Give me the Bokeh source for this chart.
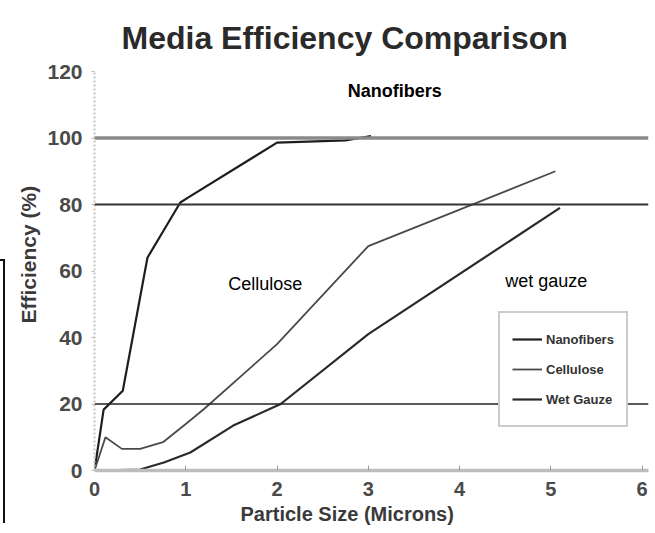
from bokeh.plotting import figure
from bokeh.models import Range1d, Span, Label, Legend, LegendItem, Title, FixedTicker, Div
from bokeh.layouts import row
from bokeh.embed import file_html
from bokeh.resources import INLINE

# ---- data ----
nano_x = [0.0, 0.1, 0.31, 0.58, 0.94, 1.02, 2.0, 2.75, 3.03]
nano_y = [0.0, 18.3, 24.0, 64.0, 80.6, 82.0, 98.6, 99.3, 100.6]

cell_x = [0.0, 0.12, 0.3, 0.5, 0.75, 1.0, 1.2, 2.0, 3.0, 5.05]
cell_y = [0.0, 10.0, 6.5, 6.5, 8.5, 14.0, 18.5, 38.0, 67.5, 90.0]

gauze_x = [0.0, 0.5, 0.76, 1.05, 1.52, 2.04, 3.0, 5.1]
gauze_y = [0.0, 0.3, 2.4, 5.4, 13.5, 20.0, 41.0, 79.0]

ref_levels = [100, 80, 20]
ref_colors = ["#8a8a8a", "#333333", "#222222"]
ref_widths = [3.5, 2.2, 1.6]

x_ticks = [0, 1, 2, 3, 4, 5, 6]
y_ticks = [0, 20, 40, 60, 80, 100, 120]

series_names = ["Nanofibers", "Cellulose", "Wet Gauze"]
annotations = ["Nanofibers", "Cellulose", "wet gauze"]
chart_title = "Media Efficiency Comparison"
x_label = "Particle Size (Microns)"
y_label = "Efficiency (%)"

FONT = "Liberation Sans"

p = figure(width=647, height=533,
           x_range=Range1d(0, 6.07), y_range=Range1d(0, 120),
           output_backend="svg", toolbar_location=None,
           min_border_left=86, min_border_right=7,
           min_border_top=71, min_border_bottom=63)
p.title = Title(text=chart_title, align="left", offset=27,
                text_font=FONT, text_font_size="32px", text_font_style="bold",
                text_color="#2a2a2a", standoff=32)
p.outline_line_color = None
p.grid.grid_line_color = None
p.background_fill_color = "white"
p.border_fill_color = "white"

# axes
p.xaxis.ticker = FixedTicker(ticks=x_ticks)
p.yaxis.ticker = FixedTicker(ticks=y_ticks)
for ax in (p.xaxis[0], p.yaxis[0]):
    ax.major_label_text_font = FONT
    ax.major_label_text_font_style = "bold"
    ax.major_label_text_color = "#4a4a4a"
    ax.minor_tick_line_color = None

p.xaxis.axis_line_color = "#bdbdbd"
p.xaxis.axis_line_width = 3.5
p.xaxis.major_tick_line_color = "#999999"
p.xaxis.major_tick_in = 5
p.xaxis.major_tick_out = 0
p.xaxis.major_label_standoff = 11
p.xaxis.major_label_text_font_size = "20px"

p.yaxis.axis_line_color = "#c4c4c4"
p.yaxis.axis_line_width = 2
p.yaxis.axis_line_dash = "2 2"
p.yaxis.major_tick_line_color = "#bbbbbb"
p.yaxis.major_tick_in = 0
p.yaxis.major_tick_out = 3
p.yaxis.major_label_standoff = 9
p.yaxis.major_label_text_font_size = "21px"

# axis titles placed as panels so they can sit off-centre like the original
x_title = Title(text=x_label, align="left", offset=146,
                text_font=FONT, text_font_size="20px", text_font_style="bold",
                text_color="#3a3a3a", standoff=5)
p.add_layout(x_title, "below")
y_title = Title(text=y_label, align="left", offset=147,
                text_font=FONT, text_font_size="21px", text_font_style="bold",
                text_color="#3a3a3a", standoff=10)
p.add_layout(y_title, "left")

# reference horizontal lines
for lvl, c, w in zip(ref_levels, ref_colors, ref_widths):
    p.add_layout(Span(location=lvl, dimension="width", line_color=c, line_width=w))

# curves
r_nano = p.line(nano_x, nano_y, line_color="#1e1e1e", line_width=2.2)
r_cell = p.line(cell_x, cell_y, line_color="#4a4a4a", line_width=1.8)
r_gauze = p.line(gauze_x, gauze_y, line_color="#2a2a2a", line_width=2.2)

# in-plot labels
p.add_layout(Label(x=3.29, y=114, text=annotations[0], text_font=FONT,
                   text_font_size="18px", text_font_style="bold",
                   text_color="black", text_align="center", text_baseline="middle"))
p.add_layout(Label(x=1.87, y=56.2, text=annotations[1], text_font=FONT,
                   text_font_size="18px", text_color="black",
                   text_align="center", text_baseline="middle"))
p.add_layout(Label(x=4.95, y=57, text=annotations[2], text_font=FONT,
                   text_font_size="18px", text_color="black",
                   text_align="center", text_baseline="middle"))

legend = Legend(items=[LegendItem(label=series_names[0], renderers=[r_nano]),
                       LegendItem(label=series_names[1], renderers=[r_cell]),
                       LegendItem(label=series_names[2], renderers=[r_gauze])],
                location=(404, 43), orientation="vertical",
                label_text_font=FONT, label_text_font_size="13px",
                label_text_font_style="bold", label_text_color="#333333",
                glyph_width=30, glyph_height=28, label_height=28,
                label_standoff=4, spacing=2, padding=12, margin=0,
                border_line_color="#9a9a9a", border_line_width=2,
                background_fill_color="white", background_fill_alpha=1.0)
p.add_layout(legend)

# the thin black bracket at the very left edge of the scanned page
bracket = Div(text='<div style="margin-top:259px;width:5px;height:264px;'
                   'border-top:2px solid #111;border-right:2px solid #111;"></div>',
              width=8, height=533, margin=0)

layout = row(bracket, p, spacing=0)

open("out.html", "w").write(file_html(layout, INLINE))
